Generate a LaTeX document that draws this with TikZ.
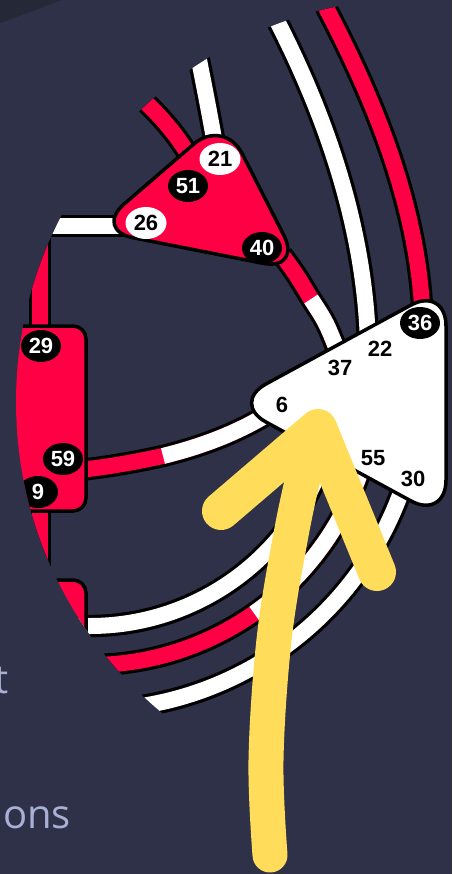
\documentclass[tikz,border=0pt]{standalone}
\usepackage{fontspec}
\setmainfont{Liberation Sans}
\newfontfamily\uifont{Open Sans}
\usetikzlibrary{shapes.geometric}
\definecolor{bg}{HTML}{2E3148}
\definecolor{bgdark}{HTML}{252836}
\definecolor{mred}{HTML}{FF0045}
\definecolor{arrowy}{HTML}{FFDD5A}
\definecolor{lav}{HTML}{A9B0D4}
\begin{document}
\begin{tikzpicture}[x=1pt,y=-1pt,
  trk/.style={line width=3.2pt, draw=black, double distance=16pt, line cap=butt},
  rtrk/.style={trk, double=mred},
  wtrk/.style={trk, double=white},
  wfill/.style={line width=16pt, draw=white, line cap=butt},
  station/.style={draw=black, line width=3.5pt, rounded corners=40pt, line join=round},
  lbl/.style={font=\fontsize{22}{22}\selectfont\bfseries, inner sep=0pt},
  bov/.style={lbl, ellipse, fill=black, text=white, minimum width=40pt, minimum height=32pt},
  wov/.style={lbl, ellipse, fill=white, text=black, minimum width=41pt, minimum height=32pt},
  plain/.style={lbl, text=black},
  arr/.style={draw=arrowy, line cap=round, line join=round},
  word/.style={anchor=base west, inner sep=0pt, text=lav, font=\uifont\fontsize{40}{48}\selectfont}]

\fill[bg] (0,0) rectangle (452,874);
\useasboundingbox (0,0) rectangle (452,874);
\fill[bgdark] (0,0) -- (0,23) .. controls (20,16) and (40,8) .. (62,0) -- cycle;

\node[word] (wt) at (-5.5,693) {t};
\node[word] (wons) at (3,828) {ons};

\begin{scope}
\clip (420,402) circle[radius=404pt];
\coordinate (hub) at (90,379);
% tracks
\draw[rtrk] (40,150) -- (40,780);
\draw[wtrk] (0,226) -- (130,226);
\draw[rtrk] (120,80) .. controls (160,112) and (182,140) .. (198,172);
\draw[wtrk] (195,40) .. controls (203,80) and (209,110) .. (216,150);
\draw[wtrk] (266,0) .. controls (320,100) and (365,220) .. (368,345);
\draw[rtrk] (322,0) .. controls (375,100) and (415,200) .. (422,305);
\coordinate (t7a) at (282,255);
\coordinate (t7m) at (311,299);
\coordinate (t7b) at (338,352);
\draw[rtrk] (t7a) .. controls (296,274) .. (t7m) .. controls (326,322) .. (t7b);
\draw[wfill] (t7m) .. controls (326,322) .. (t7b);
\coordinate (t8a) at (80,470);
\coordinate (t8m) at (163,456);
\coordinate (t8b) at (268,414);
\draw[rtrk] (t8a) .. controls (115,466) and (140,461) .. (t8m) .. controls (195,448) and (232,436) .. (t8b);
\draw[wfill] (t8m) .. controls (195,448) and (232,436) .. (t8b);
\draw[wtrk] (hub) ++(106:247) arc[start angle=106, end angle=15, radius=247];
\draw[rtrk] (hub) ++(100:286) arc[start angle=100, end angle=17, radius=286];
\draw[wfill] (hub) ++(55:286) arc[start angle=55, end angle=17, radius=286];
\draw[wtrk] (hub) ++(95:331) arc[start angle=95, end angle=18, radius=331];
% stations
\draw[station, fill=mred] (224,118) -- (302,271) -- (94,230) -- cycle;
\draw[station, fill=white] (231,403) -- (446,286) -- (446,520) -- cycle;
\draw[station, fill=mred, rounded corners=13pt] (-10,326) rectangle (86,511);
\draw[station, fill=mred, rounded corners=13pt] (-10,580) rectangle (86,780);
% labels
\node[wov] (n21) at (220,159) {21};
\node[bov] (n51) at (188,186) {51};
\node[wov] (n26) at (146,223) {26};
\node[bov] (n40) at (262,248) {40};
\node[bov] (n36) at (420,323) {36};
\node[plain] (n22) at (380,349) {22};
\node[plain] (n37) at (340,368) {37};
\node[plain] (n6) at (282,405) {6};
\node[plain] (n55) at (373,458) {55};
\node[plain] (n30) at (413,479) {30};
\node[bov] (n29) at (41,346) {29};
\node[bov] (n59) at (63,459) {59};
\node[bov] (n9) at (38,492) {9};
\end{scope}

% yellow arrow
\draw[arr, line width=35pt] plot[smooth, tension=0.6] coordinates {(270,855) (266,760) (274,640) (290,540) (305,470) (318,428)};
\draw[arr, line width=38pt] (221,511) -- (318,428) -- (377,572);
\end{tikzpicture}
\end{document}
